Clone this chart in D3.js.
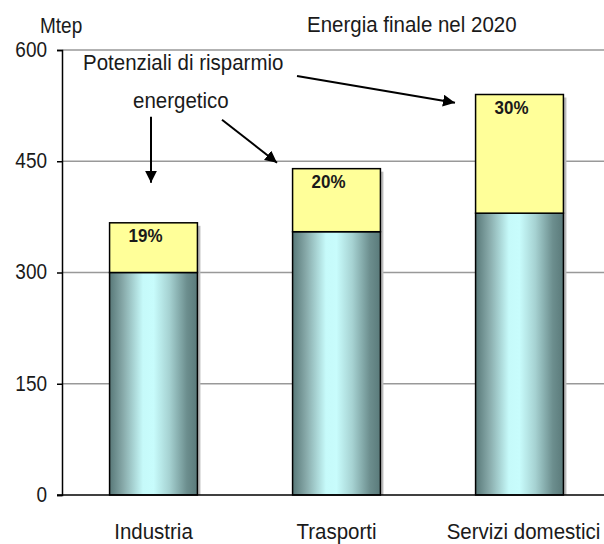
<!DOCTYPE html>
<html><head><meta charset="utf-8">
<script src="https://cdn.jsdelivr.net/npm/d3@7"></script>
<style>
html,body{margin:0;padding:0;background:#fff;}
svg{display:block;font-family:"Liberation Sans",Arial,sans-serif;}
</style></head>
<body><svg id="c" width="604" height="544"></svg>
<script>
const categories = ["Industria", "Trasporti", "Servizi domestici"];
const baseValues = [300, 355, 380];
const savingValues = [67, 85, 160];
const pctLabels = ["19%", "20%", "30%"];
const yTicks = [0, 150, 300, 450, 600];

const SY = 1.12; // vertical stretch of text as in reference
const svg = d3.select("#c");
const y = d3.scaleLinear().domain([0, 600]).range([495, 50]);
const x = d3.scaleBand().domain(categories).range([62, 611]).paddingInner(0.52).paddingOuter(0.26);

function txt(parent, px, py, s, size, opts = {}) {
  return parent.append("text")
    .attr("transform", `translate(${px},${py}) scale(1,${SY})`)
    .attr("font-size", size).attr("fill", "#1a1a1a")
    .attr("text-anchor", opts.anchor || "start")
    .attr("font-weight", opts.weight || "normal")
    .text(s);
}

const defs = svg.append("defs");
const g = defs.append("linearGradient").attr("id", "cyl").attr("x1", "0").attr("x2", "1").attr("y1", "0").attr("y2", "0");
[[0, "#587878"], [0.15, "#86a8a8"], [0.38, "#c6fafa"], [0.5, "#c8fcfc"], [0.68, "#a6d2d2"], [0.88, "#6c8e8e"], [1, "#5a7a7a"]]
  .forEach(([o, c]) => g.append("stop").attr("offset", o).attr("stop-color", c));

// gridlines
svg.append("g").selectAll("line").data(yTicks.filter(d => d > 0)).join("line")
  .attr("x1", 62).attr("x2", 604).attr("y1", d => y(d)).attr("y2", d => y(d))
  .attr("stroke", "#999").attr("stroke-width", 1.5);

// axis
const ax = svg.append("g").attr("transform", "translate(62,0)")
  .call(d3.axisLeft(y).tickValues(yTicks).tickSize(5).tickPadding(10));
ax.select(".domain").attr("stroke", "#000").attr("stroke-width", 1.5);
ax.selectAll(".tick line").attr("stroke", "#000").attr("stroke-width", 1.5);
ax.selectAll(".tick text").attr("font-size", 19).attr("fill", "#1a1a1a")
  .attr("font-family", "Liberation Sans, Arial, sans-serif")
  .attr("dy", "0.3em").attr("transform", `scale(1,${SY})`);

// shadows
svg.append("g").selectAll("rect").data(categories).join("rect")
  .attr("x", d => x(d) + x.bandwidth()).attr("y", (d, i) => y(baseValues[i] + savingValues[i]) + 3)
  .attr("width", 3).attr("height", (d, i) => y(0) - y(baseValues[i] + savingValues[i]) - 3)
  .attr("fill", "#bbb");

// base bars
svg.append("g").selectAll("rect").data(categories).join("rect")
  .attr("x", d => x(d)).attr("y", (d, i) => y(baseValues[i]))
  .attr("width", x.bandwidth()).attr("height", (d, i) => y(0) - y(baseValues[i]))
  .attr("fill", "url(#cyl)").attr("stroke", "#000").attr("stroke-width", 1.5);

// saving bars
svg.append("g").selectAll("rect").data(categories).join("rect")
  .attr("x", d => x(d)).attr("y", (d, i) => y(baseValues[i] + savingValues[i]))
  .attr("width", x.bandwidth()).attr("height", (d, i) => y(baseValues[i]) - y(baseValues[i] + savingValues[i]))
  .attr("fill", "#ffff99").attr("stroke", "#000").attr("stroke-width", 1.5);

// x baseline
svg.append("line").attr("x1", 57).attr("x2", 604).attr("y1", y(0)).attr("y2", y(0))
  .attr("stroke", "#000").attr("stroke-width", 1.5);

// pct labels
const pg = svg.append("g");
categories.forEach((d, i) => {
  txt(pg, x(d) + x.bandwidth() / 2 - 8, y(baseValues[i] + savingValues[i]) + 19, pctLabels[i], 17, { anchor: "middle", weight: "bold" });
});

// category labels
const cg = svg.append("g");
categories.forEach((d, i) => {
  txt(cg, x(d) + x.bandwidth() / 2 + (i === 2 ? 4 : 0), 539, d, 20.5, { anchor: "middle" });
});

// titles
txt(svg, 40, 33, "Mtep", 19);
txt(svg, 307, 32, "Energia finale nel 2020", 20.5);
txt(svg, 83, 70, "Potenziali di risparmio", 20.5);
txt(svg, 133, 108, "energetico", 20.5);

// arrows
const mk = defs.append("marker").attr("id", "ah").attr("viewBox", "0 0 10 10").attr("refX", 10).attr("refY", 5)
  .attr("markerWidth", 6).attr("markerHeight", 6).attr("orient", "auto").attr("markerUnits", "strokeWidth");
mk.append("path").attr("d", "M0,0 L10,5 L0,10 z").attr("fill", "#000");
const arrows = [
  [[151, 510], [151, 421]],
  [[222, 506], [277, 448]],
  [[297, 565], [455, 529]]
];
svg.append("g").selectAll("line").data(arrows).join("line")
  .attr("x1", d => d[0][0]).attr("y1", d => y(d[0][1]))
  .attr("x2", d => d[1][0]).attr("y2", d => y(d[1][1]))
  .attr("stroke", "#000").attr("stroke-width", 2).attr("marker-end", "url(#ah)");
</script></body></html>
